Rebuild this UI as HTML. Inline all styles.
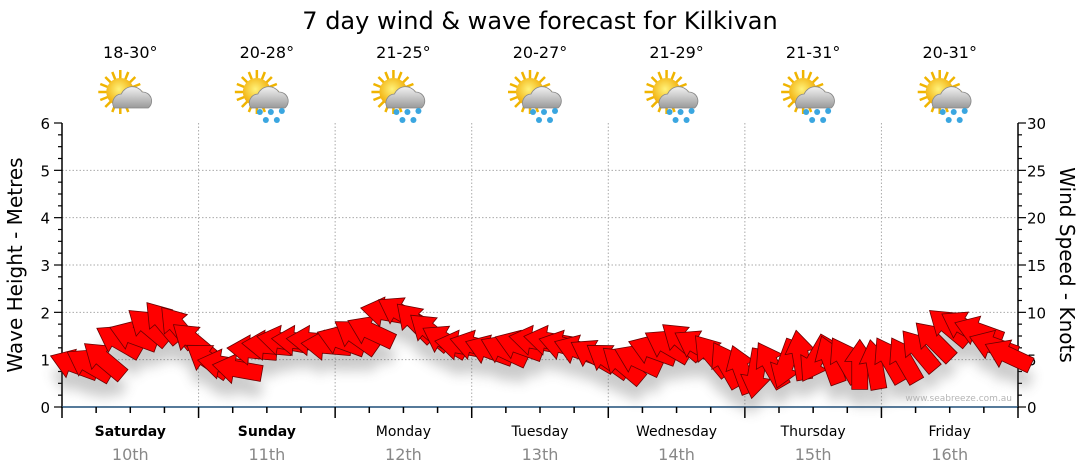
<!DOCTYPE html>
<html><head><meta charset="utf-8">
<style>
html,body{margin:0;padding:0;background:#fff;}
svg{display:block;font-family:"DejaVu Sans","Liberation Sans",sans-serif;}
</style></head>
<body>
<svg id="chart" width="1080" height="475" viewBox="0 0 1080 475">
<defs>
<filter id="sh" x="-50%" y="-50%" width="200%" height="200%"><feGaussianBlur stdDeviation="6"/></filter>
<radialGradient id="sunG" cx="0.45" cy="0.4" r="0.6"><stop offset="0" stop-color="#fff27a"/><stop offset="1" stop-color="#f0a800"/></radialGradient>
<linearGradient id="cloudG" x1="0" y1="0" x2="0" y2="1"><stop offset="0" stop-color="#f2f2f2"/><stop offset="1" stop-color="#9a9a9a"/></linearGradient>
<g id="sunIcon">
<g stroke="#f0b400" stroke-width="2.5">
<line x1="-22" y1="0" x2="22" y2="0"/><line x1="0" y1="-22" x2="0" y2="22"/>
<line x1="-15" y1="-15" x2="15" y2="15"/><line x1="-15" y1="15" x2="15" y2="-15"/>
<line x1="-20" y1="-8" x2="20" y2="8"/><line x1="-8" y1="-20" x2="8" y2="20"/>
<line x1="-20" y1="8" x2="20" y2="-8"/><line x1="-8" y1="20" x2="8" y2="-20"/>
</g>
<circle r="14" fill="url(#sunG)"/>
<path d="M-6,16 a9,9 0 0 1 7,-14 a12,12 0 0 1 21,-2 a9,9 0 0 1 6,16 z" fill="url(#cloudG)" stroke="#888" stroke-width="0.8"/>
</g>
<g id="rain">
<circle cx="0" cy="20" r="3" fill="#3aa6e0"/><circle cx="11" cy="20" r="3" fill="#3aa6e0"/><circle cx="22" cy="19" r="3" fill="#3aa6e0"/>
<circle cx="6" cy="28" r="3" fill="#3aa6e0"/><circle cx="17" cy="28" r="3" fill="#3aa6e0"/>
</g>
</defs>
<text x="540" y="29" font-size="24" text-anchor="middle" fill="#000">7 day wind &amp; wave forecast for Kilkivan</text>
<g id="plot"></g>
<text transform="translate(22,265) rotate(-90)" font-size="20" text-anchor="middle">Wave Height - Metres</text>
<text transform="translate(1060,265) rotate(90)" font-size="20" text-anchor="middle">Wind Speed - Knots</text>
<text x="1012" y="401" font-size="9" fill="#b5b5b5" text-anchor="end">www.seabreeze.com.au</text>
</svg>
<script>
const days = ["Saturday","Sunday","Monday","Tuesday","Wednesday","Thursday","Friday"];
const dates = ["10th","11th","12th","13th","14th","15th","16th"];
const boldDays = [true,true,false,false,false,false,false];
const temps = ["18-30°","20-28°","21-25°","20-27°","21-29°","21-31°","20-31°"];
const rainy = [false,true,true,true,true,true,true];
const leftTicks = [0,1,2,3,4,5,6];
const rightTicks = [0,5,10,15,20,25,30];
// wind speed (knots), evenly spaced through the week
const windSpeed = [4.5,4.5,5,7,7.5,8.5,9,8.5, 7,5,4.5,4,6,6.5,7,7,
  7,6.5,7,7.5,8,10,10,9, 8,7,6.5,6.5,6,6,6.5,7, 7,6.5,6,5.5,5,4.5,5,6,
  6.5,7,6.5,5.5,4.5,4,3.5,4.5, 4.5,5.5,5,5,5,4.5,4.5,5, 5,6,7,8.5,8.5,8,6.5,5.5];
// wind from-direction (compass degrees)
const windDir = [110,120,130,120,110,130,140,140, 130,125,100,100,95,95,100,95,
  95,95,110,125,115,100,120,135, 130,120,100,105,110,115,110,100, 100,105,110,120,125,130,115,110,
  120,130,120,140,150,160,10,150, 20,170,30,160,150,180,170,150, 150,140,135,130,120,110,110,115];

const NS="http://www.w3.org/2000/svg";
const plot=document.getElementById('plot');
const X0=62,X1=1018,Y0=407,Y6=123;
const dayW=(X1-X0)/7;
const yM=v=>Y0-(Y0-Y6)*v/6;
const yK=v=>Y0-(Y0-Y6)*v/30;
const xH=h=>X0+dayW*h/24;
const N=windSpeed.length;
const xA=i=>74+(1008-74)*i/(N-1);
function mk(tag,attrs,parent){const e=document.createElementNS(NS,tag);for(const k in attrs)e.setAttribute(k,attrs[k]);(parent||plot).appendChild(e);return e;}

leftTicks.forEach((t)=>{ if(t>0&&t<6){const g=mk('line',{x1:X0,x2:X1,y1:yM(t),y2:yM(t),stroke:'#aaa','stroke-dasharray':'1.5,2'});

}});
for(let d=1;d<7;d++){const g=mk('line',{x1:X0+d*dayW,x2:X0+d*dayW,y1:Y6,y2:Y0,stroke:'#aaa','stroke-dasharray':'1.5,2'});

}

let a=mk('line',{x1:X0,x2:X0,y1:Y6,y2:Y0+1,stroke:'#000','stroke-width':1.5});


a=mk('line',{x1:X1,x2:X1,y1:Y6,y2:Y0+1,stroke:'#000','stroke-width':1.5});


a=mk('line',{x1:X0,x2:X1,y1:Y0,y2:Y0,stroke:'#1f4e79','stroke-width':1.5});


for(let i=0;i<=24;i++){const y=yM(i/4);const L=i%4==0?8:4;
 mk('line',{x1:X0-L,x2:X0,y1:y,y2:y,stroke:'#000','stroke-width':1.2});
 mk('line',{x1:X1,x2:X1+L,y1:y,y2:y,stroke:'#000','stroke-width':1.2});}
leftTicks.forEach(t=>{const e=mk('text',{x:X0-12,y:yM(t)+6,'font-size':15,'text-anchor':'end'});e.textContent=t;

});
rightTicks.forEach(t=>{const e=mk('text',{x:X1+9,y:yK(t)+6,'font-size':15});e.textContent=t;

});
for(let h=0;h<=168;h+=6){const x=xH(h);mk('line',{x1:x,x2:x,y1:Y0,y2:Y0+(h%24==0?11:6),stroke:'#000','stroke-width':1.5});}

days.forEach((d,i)=>{const cx=X0+dayW*(i+0.5);
 let e=mk('text',{x:cx,y:436,'font-size':14,'text-anchor':'middle','font-weight':boldDays[i]?'bold':'normal'});e.textContent=d;
 
 
 e=mk('text',{x:cx,y:460,'font-size':16,'text-anchor':'middle',fill:'#888'});e.textContent=dates[i];
 
 
 e=mk('text',{x:cx,y:58,'font-size':16,'text-anchor':'middle'});e.textContent=temps[i];
 
 
 e=mk('use',{href:'#sunIcon',x:cx-10,y:92});
 
 
 if(rainy[i]){const r=mk('use',{href:'#rain',x:cx-7,y:92});
  
  }
});

const arrowPath="M-25,0 L-3,-15 L-3,-8 L25,-8 L25,8 L-3,8 L-3,15 Z";
const shadowG=mk('g',{filter:'url(#sh)',opacity:0.3});


const arrG=mk('g',{});


windSpeed.forEach((v,i)=>{const x=xA(i),y=yK(v);
 const c=(windDir[i]+180)%360;
 const ang=Math.atan2(-Math.cos(c*Math.PI/180),Math.sin(c*Math.PI/180))*180/Math.PI;
 const rot=ang-180;
 mk('path',{d:arrowPath,transform:`translate(${x},${y+16}) rotate(${rot})`,fill:'#555'},shadowG);
 const p=mk('path',{d:arrowPath,transform:`translate(${x},${y}) rotate(${rot})`,fill:'#ff0000',stroke:'#6a0000','stroke-width':0.8},arrG);
 
 
});
</script>
</body></html>
